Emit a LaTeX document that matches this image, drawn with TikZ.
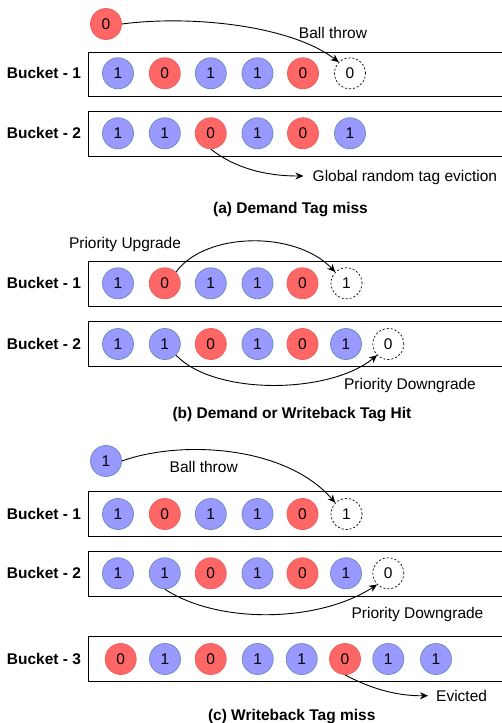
\documentclass[tikz,border=0pt]{standalone}
\usepackage{fontspec}
\setmainfont{Liberation Sans}
\usetikzlibrary{arrows.meta}
\definecolor{hiFill}{HTML}{9999FF}
\definecolor{hiLine}{HTML}{6C8EBF}
\definecolor{loFill}{HTML}{FF6666}
\definecolor{loLine}{HTML}{B85450}
\tikzset{
  txt/.style={font=\fontsize{15.5}{18}\selectfont, inner sep=0pt, text height=10.8pt, text depth=0pt},
  ball/.style={circle, minimum size=31pt, inner sep=0pt, line width=0.8pt, txt},
  hi/.style={ball, draw=hiLine, fill=hiFill},
  lo/.style={ball, draw=loFill!70!loLine, fill=loFill},
  slot/.style={ball, draw=black, dashed, dash pattern=on 2pt off 2pt, line width=0.7pt},
  bucket/.style={draw=black, line width=0.9pt},
  blabel/.style={txt, font=\fontsize{15.5}{18}\selectfont\bfseries},
  caption/.style={txt, font=\fontsize{15.5}{18}\selectfont\bfseries},
  flow/.style={draw=black, line width=0.9pt, -{Stealth[length=8pt,width=7pt,inset=2.5pt]}},
}
\begin{document}
\begin{tikzpicture}[x=1pt,y=-1pt]
\useasboundingbox (0,0) rectangle (501,723);

% ---------------- (a) Demand Tag miss ----------------
\draw[bucket] (88,52) rectangle (503,96.7);
\draw[bucket] (88,111.7) rectangle (503,156);
\node[blabel] (aL1) at (44,73.3) {Bucket - 1};
\node[blabel] (aL2) at (44,133.3) {Bucket - 2};
\node[lo] (aT) at (106,24) {0};
% bucket 1
\node[hi] (a11) at (118,73.3) {1};
\node[lo] (a12) at (164.8,73.3) {0};
\node[hi] (a13) at (210.8,73.3) {1};
\node[hi] (a14) at (257.5,73.3) {1};
\node[lo] (a15) at (303,73.3) {0};
\node[slot] (a16) at (350,73.3) {0};
% bucket 2
\node[hi] (a21) at (118,133.3) {1};
\node[hi] (a22) at (164.8,133.3) {1};
\node[lo] (a23) at (210.8,133.3) {0};
\node[hi] (a24) at (257.5,133.3) {1};
\node[lo] (a25) at (303,133.3) {0};
\node[hi] (a26) at (350,133.3) {1};
\node[txt] (aThrow) at (333,33) {Ball throw};
\node[txt, anchor=west, inner xsep=9pt] (aEvict) at (303.5,176) {Global random tag eviction};
\draw[flow] (aT.east) .. controls (190,15) and (290,25) .. (a16.north west);
\draw[flow] (a23.south) .. controls (235,168) and (265,176) .. (aEvict.west);
\node[caption] (aCap) at (290.5,208) {(a) Demand Tag miss};

% ---------------- (b) Demand or Writeback Tag Hit ----------------
\draw[bucket] (88,261.7) rectangle (503,306);
\draw[bucket] (88,321.7) rectangle (503,366);
\node[blabel] (bL1) at (44,283.3) {Bucket - 1};
\node[blabel] (bL2) at (44,344) {Bucket - 2};
% bucket 1
\node[hi] (b11) at (118,283.3) {1};
\node[lo] (b12) at (164.8,283.3) {0};
\node[hi] (b13) at (210.8,283.3) {1};
\node[hi] (b14) at (257.5,283.3) {1};
\node[lo] (b15) at (302.5,283.3) {0};
\node[slot] (b16) at (346.5,283.3) {1};
% bucket 2
\node[hi] (b21) at (118,344) {1};
\node[hi] (b22) at (164.8,344) {1};
\node[lo] (b23) at (210.8,344) {0};
\node[hi] (b24) at (257.5,344) {1};
\node[lo] (b25) at (302.5,344) {0};
\node[hi] (b26) at (346,344) {1};
\node[slot] (b27) at (388.3,344) {0};
\node[txt] (bUp) at (125,243) {Priority Upgrade};
\node[txt] (bDown) at (410,384) {Priority Downgrade};
\draw[flow] (b12.north east) .. controls (205,232) and (295,230) .. (b16.north west);
\draw[flow] (b22.south east) .. controls (215,396) and (330,394) .. (b27.south west);
\node[caption] (bCap) at (292,412.7) {(b) Demand or Writeback Tag Hit};

% ---------------- (c) Writeback Tag miss ----------------
\draw[bucket] (88,491.7) rectangle (503,536.7);
\draw[bucket] (88,551.7) rectangle (503,596);
\draw[bucket] (88,636.7) rectangle (503,681.7);
\node[blabel] (cL1) at (44,514) {Bucket - 1};
\node[blabel] (cL2) at (44,573.3) {Bucket - 2};
\node[blabel] (cL3) at (44,659) {Bucket - 3};
\node[hi] (cT) at (106,461) {1};
% bucket 1
\node[hi] (c11) at (118,514) {1};
\node[lo] (c12) at (164.8,514) {0};
\node[hi] (c13) at (210.8,514) {1};
\node[hi] (c14) at (257.5,514) {1};
\node[lo] (c15) at (302.5,514) {0};
\node[slot] (c16) at (346.5,514) {1};
% bucket 2
\node[hi] (c21) at (118,573.3) {1};
\node[hi] (c22) at (164.8,573.3) {1};
\node[lo] (c23) at (210.8,573.3) {0};
\node[hi] (c24) at (257.5,573.3) {1};
\node[lo] (c25) at (302.5,573.3) {0};
\node[hi] (c26) at (346,573.3) {1};
\node[slot] (c27) at (388.3,573.3) {0};
% bucket 3
\node[lo] (c31) at (120.7,659) {0};
\node[hi] (c32) at (165,659) {1};
\node[lo] (c33) at (210.7,659) {0};
\node[hi] (c34) at (257.7,659) {1};
\node[hi] (c35) at (301.7,659) {1};
\node[lo] (c36) at (345,659) {0};
\node[hi] (c37) at (388.3,659) {1};
\node[hi] (c38) at (436,659) {1};
\node[txt] (cThrow) at (203.7,466.7) {Ball throw};
\node[txt] (cDown) at (417.5,612.7) {Priority Downgrade};
\node[txt, anchor=west, inner xsep=8pt] (cEvict) at (428,695.7) {Evicted};
\draw[flow] (cT.east) .. controls (180,440) and (285,445) .. (c16.north west);
\draw[flow] (c22.south) .. controls (220,625) and (320,622) .. (c27.south west);
\draw[flow] (c36.south) .. controls (370,688) and (395,696) .. (cEvict.west);
\node[caption] (cCap) at (291.7,715) {(c) Writeback Tag miss};
\end{tikzpicture}
\end{document}
